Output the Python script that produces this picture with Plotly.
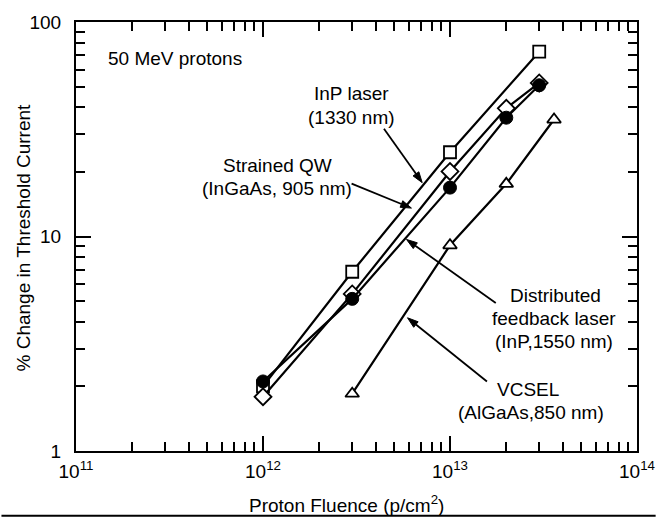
import math
import plotly.graph_objects as go

# Proton fluence (p/cm^2) and % change in threshold current for each device
inp_fluence = [1e12, 3e12, 1e13, 3e13]
inp_change = [2.0, 6.85, 24.7, 72.7]

qw_fluence = [1e12, 3e12, 1e13, 2e13, 3e13]
qw_change = [1.79, 5.4, 20.1, 39.6, 52.0]

dfb_fluence = [1e12, 3e12, 1e13, 2e13, 3e13]
dfb_change = [2.11, 5.12, 16.9, 35.8, 50.7]

vcsel_fluence = [3e12, 1e13, 2e13, 3.6e13]
vcsel_change = [1.85, 9.1, 17.6, 35.1]

x_tickvals = [1e11, 1e12, 1e13, 1e14]
x_ticktext = ["10<sup>11</sup>", "10<sup>12</sup>", "10<sup>13</sup>", "10<sup>14</sup>"]
y_tickvals = [1, 10, 100]
y_ticktext = ["1", "10", "100"]

FONT = "Liberation Sans, Arial, Helvetica, sans-serif"
FS = 19

# plot-area geometry in pixels
W, H = 667, 521
L, R, T, B = 76, 19, 13, 70
PW, PH = W - L - R, H - T - B


def px(x):
    return (x - L) / PW


def py(y):
    return (H - B - y) / PH


fig = go.Figure()

fig.add_trace(go.Scatter(
    x=inp_fluence, y=inp_change, mode="lines+markers",
    name="InP laser (1330 nm)",
    line=dict(color="black", width=2.2),
    marker=dict(symbol="square", size=12, color="white",
                line=dict(color="black", width=1.8)),
))
fig.add_trace(go.Scatter(
    x=qw_fluence, y=qw_change, mode="lines+markers",
    name="Strained QW (InGaAs, 905 nm)",
    line=dict(color="black", width=2.2),
    marker=dict(symbol="diamond", size=13, color="white",
                line=dict(color="black", width=1.8)),
))
fig.add_trace(go.Scatter(
    x=dfb_fluence, y=dfb_change, mode="lines+markers",
    name="Distributed feedback laser (InP,1550 nm)",
    line=dict(color="black", width=2.2),
    marker=dict(symbol="circle", size=13, color="black",
                line=dict(color="black", width=1)),
))
fig.add_trace(go.Scatter(
    x=vcsel_fluence, y=vcsel_change, mode="lines+markers",
    name="VCSEL (AlGaAs,850 nm)",
    line=dict(color="black", width=2.2),
    marker=dict(symbol="triangle-up", size=12, color="white",
                line=dict(color="black", width=1.8)),
))

minor_x = [m * 10 ** e for e in (11, 12, 13) for m in range(2, 10)]
minor_y = [m * 10 ** e for e in (0, 1) for m in range(2, 10)]

axis_common = dict(
    showline=True, linecolor="black", linewidth=2.2, mirror="ticks",
    ticks="inside", ticklen=15, tickwidth=1.6, tickcolor="black",
    showgrid=False, zeroline=False,
    tickfont=dict(family=FONT, size=FS, color="black"),
)

fig.update_xaxes(
    type="log", range=[11, 14],
    tickmode="array", tickvals=x_tickvals, ticktext=x_ticktext,
    minor=dict(tickmode="array", tickvals=minor_x, ticks="inside",
               ticklen=9, tickwidth=1.6, tickcolor="black", showgrid=False),
    ticklabelstandoff=2,
    **axis_common,
)
fig.update_yaxes(
    type="log", range=[0, 2],
    tickmode="array", tickvals=y_tickvals, ticktext=y_ticktext,
    minor=dict(tickmode="array", tickvals=minor_y, ticks="inside",
               ticklen=9, tickwidth=1.6, tickcolor="black", showgrid=False),
    ticklabelstandoff=9,
    **axis_common,
)

annotations = []
shapes = []


def text(x, y, s):
    annotations.append(dict(
        x=px(x), y=py(y), xref="paper", yref="paper", text=s,
        showarrow=False, xanchor="center", yanchor="middle",
        font=dict(family=FONT, size=FS, color="black"),
    ))


def arrow(x0, y0, x1, y1, head_len=11, half_w=3.6):
    # pointer line from (x0, y0) to a filled head at (x1, y1), in pixels
    dx, dy = x1 - x0, y1 - y0
    d = math.hypot(dx, dy)
    ux, uy = dx / d, dy / d
    bx, by = x1 - ux * head_len, y1 - uy * head_len
    nx, ny = -uy * half_w, ux * half_w
    shapes.append(dict(type="line", xref="paper", yref="paper",
                       x0=px(x0), y0=py(y0), x1=px(bx), y1=py(by),
                       line=dict(color="black", width=1.8)))
    path = "M {:.5f},{:.5f} L {:.5f},{:.5f} L {:.5f},{:.5f} Z".format(
        px(x1), py(y1), px(bx + nx), py(by + ny), px(bx - nx), py(by - ny))
    shapes.append(dict(type="path", xref="paper", yref="paper", path=path,
                       fillcolor="black", line=dict(color="black", width=1)))


text(177, 50, "50 MeV protons")
text(357, 86, "InP laser")
text(357, 110, "(1330 nm)")
text(281, 160, "Strained QW")
text(281, 183, "(InGaAs, 905 nm)")
text(565, 292, "Distributed")
text(563, 316, "feedback laser")
text(563, 339, "(InP,1550 nm)")
text(537, 388, "VCSEL")
text(540, 412, "(AlGaAs,850 nm)")

arrow(390, 122, 429, 177)
arrow(357, 178, 418, 203)
arrow(504, 300, 413, 235)
arrow(495, 380, 414, 315)

# axis titles
annotations.append(dict(
    x=px(352), y=py(505), xref="paper", yref="paper",
    text="Proton Fluence (p/cm<sup>2</sup>)", showarrow=False,
    xanchor="center", yanchor="middle",
    font=dict(family=FONT, size=FS, color="black"),
))
annotations.append(dict(
    x=px(22), y=py(233), xref="paper", yref="paper",
    text="% Change in Threshold Current", showarrow=False, textangle=-90,
    xanchor="center", yanchor="middle",
    font=dict(family=FONT, size=FS, color="black"),
))

# rule under the figure
shapes.append(dict(type="line", xref="paper", yref="paper",
                   x0=px(0), x1=px(W), y0=py(517), y1=py(517),
                   line=dict(color="black", width=2)))

fig.update_layout(
    width=W, height=H, autosize=False,
    margin=dict(l=L, r=R, t=T, b=B),
    paper_bgcolor="white", plot_bgcolor="white",
    showlegend=False,
    annotations=annotations,
    shapes=shapes,
)

fig.write_html("out.html")
